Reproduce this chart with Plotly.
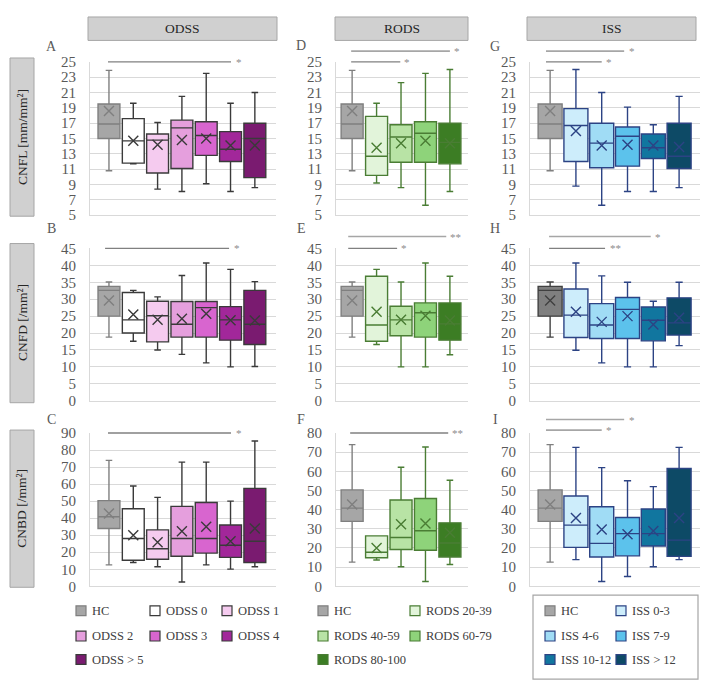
import plotly.graph_objects as go

W, H = 708, 682

# groups
odss_groups = ["HC", "ODSS 0", "ODSS 1", "ODSS 2", "ODSS 3", "ODSS 4", "ODSS > 5"]
rods_groups = ["HC", "RODS 20-39", "RODS 40-59", "RODS 60-79", "RODS 80-100"]
iss_groups = ["HC", "ISS 0-3", "ISS 4-6", "ISS 7-9", "ISS 10-12", "ISS > 12"]

# CNFL [mm/mm2]
cnfl_odss_min = [10.8, 11.7, 8.4, 8.1, 9.1, 8.1, 8.6]
cnfl_odss_q1 = [15.0, 11.8, 10.5, 11.1, 12.8, 12.0, 9.9]
cnfl_odss_med = [16.9, 14.7, 14.8, 16.4, 15.4, 13.6, 15.0]
cnfl_odss_q3 = [19.5, 17.6, 15.6, 17.4, 17.2, 15.9, 17.0]
cnfl_odss_max = [23.9, 19.6, 17.1, 20.5, 23.5, 19.6, 21.0]
cnfl_odss_mean = [18.6, 14.7, 14.2, 14.8, 15.0, 14.1, 14.1]

cnfl_rods_min = [10.8, 9.2, 8.6, 6.3, 8.1]
cnfl_rods_q1 = [15.0, 10.2, 11.9, 11.9, 11.7]
cnfl_rods_med = [16.9, 12.7, 15.2, 15.7, 14.5]
cnfl_rods_q3 = [19.5, 17.9, 16.8, 17.2, 17.0]
cnfl_rods_max = [23.9, 19.6, 22.3, 23.5, 24.0]
cnfl_rods_mean = [18.6, 13.8, 14.4, 14.7, 14.4]

cnfl_iss_min = [10.8, 8.8, 6.3, 8.1, 8.1, 8.6]
cnfl_iss_q1 = [15.0, 12.0, 11.2, 11.4, 12.4, 11.1]
cnfl_iss_med = [16.9, 16.7, 14.4, 15.3, 13.8, 12.7]
cnfl_iss_q3 = [19.5, 18.9, 17.0, 16.5, 15.6, 17.0]
cnfl_iss_max = [23.9, 24.0, 21.0, 19.1, 16.8, 20.5]
cnfl_iss_mean = [18.6, 16.0, 14.1, 14.2, 14.1, 13.9]

# CNFD [/mm2]
cnfd_odss_min = [18.8, 17.6, 15.0, 13.7, 11.2, 10.0, 10.1]
cnfd_odss_q1 = [25.0, 20.0, 17.4, 18.8, 18.8, 17.9, 16.6]
cnfd_odss_med = [32.6, 23.9, 25.1, 22.6, 27.5, 23.9, 22.6]
cnfd_odss_q3 = [33.8, 32.0, 29.4, 29.3, 29.3, 27.8, 32.6]
cnfd_odss_max = [35.1, 32.6, 30.7, 37.0, 40.7, 38.8, 35.2]
cnfd_odss_mean = [29.6, 25.5, 23.9, 24.2, 25.7, 23.8, 23.7]

cnfd_rods_min = [18.8, 16.6, 10.0, 10.0, 13.6]
cnfd_rods_q1 = [25.0, 17.6, 19.2, 18.8, 17.9]
cnfd_rods_med = [32.6, 22.4, 23.9, 26.0, 22.7]
cnfd_rods_q3 = [33.8, 36.8, 27.9, 28.9, 28.9]
cnfd_rods_max = [35.1, 38.8, 35.1, 40.7, 36.8]
cnfd_rods_mean = [29.6, 26.3, 23.9, 25.1, 23.7]

cnfd_iss_min = [18.8, 14.9, 11.2, 10.0, 10.0, 16.3]
cnfd_iss_q1 = [25.0, 18.7, 18.4, 18.4, 17.7, 19.4]
cnfd_iss_med = [32.6, 25.3, 22.4, 27.0, 23.8, 23.0]
cnfd_iss_q3 = [33.8, 33.0, 28.7, 30.5, 27.7, 30.4]
cnfd_iss_max = [35.1, 40.7, 36.9, 35.0, 29.4, 35.0]
cnfd_iss_mean = [29.6, 26.3, 23.3, 25.0, 22.5, 24.5]

# CNBD [/mm2]
cnbd_odss_min = [12.6, 14.0, 11.5, 2.5, 12.6, 10.1, 11.5]
cnbd_odss_q1 = [33.9, 15.3, 15.9, 17.6, 19.5, 17.0, 14.0]
cnbd_odss_med = [40.8, 28.1, 22.0, 28.1, 28.1, 24.1, 26.4]
cnbd_odss_q3 = [50.3, 45.5, 33.1, 46.9, 49.2, 36.0, 57.5]
cnbd_odss_max = [73.9, 58.9, 52.2, 72.9, 72.9, 50.0, 85.3]
cnbd_odss_mean = [42.7, 30.0, 25.8, 32.3, 35.0, 26.4, 34.0]

cnbd_rods_min = [12.6, 13.7, 10.2, 2.5, 11.4]
cnbd_rods_q1 = [33.9, 14.9, 19.2, 18.8, 15.3]
cnbd_rods_med = [40.8, 17.8, 25.5, 29.0, 22.6]
cnbd_rods_q3 = [50.3, 26.3, 45.0, 45.8, 33.1]
cnbd_rods_max = [73.9, 26.3, 62.1, 72.7, 55.3]
cnbd_rods_mean = [42.7, 20.0, 32.4, 32.8, 28.0]

cnbd_iss_min = [12.6, 13.9, 2.5, 5.1, 10.2, 13.9]
cnbd_iss_q1 = [33.9, 20.3, 15.3, 15.9, 21.0, 15.6]
cnbd_iss_med = [40.8, 31.9, 22.4, 27.5, 27.5, 24.1]
cnbd_iss_q3 = [50.3, 47.1, 41.5, 35.9, 40.3, 61.5]
cnbd_iss_max = [73.9, 72.5, 61.9, 55.1, 52.0, 72.5]
cnbd_iss_mean = [42.7, 35.6, 29.7, 27.1, 28.8, 35.6]

# significance bars: (from group, to group, level, label)
sig_a = [(-0.04, 5.02, 25.0, "*")]
sig_d = [(-0.04, 4.0, 26.4, "*"), (-0.04, 1.97, 25.0, "*")]
sig_g = [(-0.16, 2.87, 26.4, "*"), (-0.16, 2.0, 25.0, "*")]
sig_b = [(-0.16, 4.94, 45.0, "*")]
sig_e = [(-0.16, 3.85, 48.5, "**"), (-0.16, 1.84, 45.0, "*")]
sig_h = [(-0.04, 3.9, 48.5, "*"), (-0.04, 2.13, 45.0, "**")]
sig_c = [(-0.04, 5.02, 90.0, "*")]
sig_f = [(-0.08, 3.93, 80.0, "**")]
sig_i = [(-0.16, 2.87, 87.0, "*"), (-0.16, 2.0, 81.5, "*")]

col_titles = ["ODSS", "RODS", "ISS"]
row_titles = ["CNFL [mm/mm²]", "CNFD [/mm²]", "CNBD [/mm²]"]

# colours
HC_FILL, HC_LINE = "#a6a6a6", "#7f7f7f"
odss_fill = [HC_FILL, "#ffffff", "#f5cbef", "#e59fdd", "#d865cf", "#a2279a", "#7a1b70"]
rods_fill = [HC_FILL, "#e2f4da", "#b8e3a5", "#8ed37a", "#3c7d24"]
iss_fill = [HC_FILL, "#cdedfb", "#a0dcf5", "#5cc2ec", "#11769f", "#0d4a66"]
odss_line = [HC_LINE] + ["#3a3a3a"] * 6
rods_line = [HC_LINE] + ["#4a7d34"] * 4
iss_line = [HC_LINE] + ["#2c4384"] * 5

SERIF = "Times New Roman, Liberation Serif, DejaVu Serif, serif"
GRID = "#d9d9d9"

# layout geometry in pixels
col_px = [(82, 268, [-0.78, 6.87]), (328, 460, [-0.66, 4.74]), (522, 692, [-0.78, 5.81])]
row_px = [(47, 204), (238, 394), (427, 584)]


def fx(p):
    return p / W


def fy(p):
    return 1 - p / H


panels = [
    # col, row, letter, fills, lines, stats, yrange, dtick, sig
    (0, 0, "A", odss_fill, odss_line,
     (cnfl_odss_min, cnfl_odss_q1, cnfl_odss_med, cnfl_odss_q3, cnfl_odss_max, cnfl_odss_mean), [5, 25], 2, sig_a),
    (0, 1, "B", odss_fill, odss_line,
     (cnfd_odss_min, cnfd_odss_q1, cnfd_odss_med, cnfd_odss_q3, cnfd_odss_max, cnfd_odss_mean), [0, 45], 5, sig_b),
    (0, 2, "C", odss_fill, odss_line,
     (cnbd_odss_min, cnbd_odss_q1, cnbd_odss_med, cnbd_odss_q3, cnbd_odss_max, cnbd_odss_mean), [0, 90], 10, sig_c),
    (1, 0, "D", rods_fill, rods_line,
     (cnfl_rods_min, cnfl_rods_q1, cnfl_rods_med, cnfl_rods_q3, cnfl_rods_max, cnfl_rods_mean), [5, 25], 2, sig_d),
    (1, 1, "E", rods_fill, rods_line,
     (cnfd_rods_min, cnfd_rods_q1, cnfd_rods_med, cnfd_rods_q3, cnfd_rods_max, cnfd_rods_mean), [0, 45], 5, sig_e),
    (1, 2, "F", rods_fill, rods_line,
     (cnbd_rods_min, cnbd_rods_q1, cnbd_rods_med, cnbd_rods_q3, cnbd_rods_max, cnbd_rods_mean), [0, 80], 10, sig_f),
    (2, 0, "G", iss_fill, iss_line,
     (cnfl_iss_min, cnfl_iss_q1, cnfl_iss_med, cnfl_iss_q3, cnfl_iss_max, cnfl_iss_mean), [5, 25], 2, sig_g),
    (2, 1, "H", ["#7f7f7f"] + iss_fill[1:], ["#404040"] + iss_line[1:],
     (cnfd_iss_min, cnfd_iss_q1, cnfd_iss_med, cnfd_iss_q3, cnfd_iss_max, cnfd_iss_mean), [0, 45], 5, sig_h),
    (2, 2, "I", iss_fill, iss_line,
     (cnbd_iss_min, cnbd_iss_q1, cnbd_iss_med, cnbd_iss_q3, cnbd_iss_max, cnbd_iss_mean), [0, 80], 10, sig_i),
]

letter_px = {"A": (43, 31), "B": (43, 218), "C": (43, 413),
             "D": (293, 30), "E": (293, 218), "F": (293, 413),
             "G": (487, 31), "H": (487, 218), "I": (487, 413)}

fig = go.Figure()
shapes = []
annotations = []
layout_axes = {}

for n, (c, r, letter, fills, lines, stats, yrange, dtick, sig) in enumerate(panels, start=1):
    sfx = "" if n == 1 else str(n)
    x0p, x1p, xrange = col_px[c]
    y0p, y1p = row_px[r]
    lo, q1, med, q3, hi, mean = stats
    idx = list(range(len(lo)))

    for i in idx:
        fig.add_trace(go.Box(
            x=[i], q1=[q1[i]], median=[med[i]], q3=[q3[i]],
            lowerfence=[lo[i]], upperfence=[hi[i]],
            width=0.9 if c < 2 else 0.93, whiskerwidth=0.3,
            fillcolor=fills[i], line=dict(color=lines[i], width=1.4),
            boxpoints=False, hoverinfo="skip", showlegend=False,
            xaxis="x" + sfx, yaxis="y" + sfx,
        ))
    fig.add_trace(go.Scatter(
        x=idx, y=mean, mode="markers", showlegend=False, hoverinfo="skip",
        marker=dict(symbol="x-thin", size=10, line=dict(width=1.4, color=lines)),
        xaxis="x" + sfx, yaxis="y" + sfx,
    ))

    layout_axes["xaxis" + sfx] = dict(
        domain=[fx(x0p), fx(x1p)], range=xrange, anchor="y" + sfx,
        showticklabels=False, showgrid=False, zeroline=False,
        showline=True, linecolor=GRID, linewidth=1, ticks="", fixedrange=True,
    )
    layout_axes["yaxis" + sfx] = dict(
        domain=[fy(y1p), fy(y0p)], range=yrange, anchor="x" + sfx,
        tick0=yrange[0], dtick=dtick, showgrid=True, gridcolor=GRID, gridwidth=1,
        zeroline=False, showline=True, linecolor=GRID, linewidth=1,
        ticks="outside", ticklen=10, tickcolor="rgba(0,0,0,0)",
        tickfont=dict(family=SERIF, size=15, color="#595959"), fixedrange=True,
    )

    # significance bars
    span_x = xrange[1] - xrange[0]
    span_y = yrange[1] - yrange[0]
    for (a, b, lvl, lab) in sig:
        yf = (lvl - yrange[0]) / span_y
        upper = lvl > yrange[1] + 0.01 * span_y
        shapes.append(dict(
            type="line", xref="x" + sfx + " domain", yref="y" + sfx + " domain",
            x0=(a - xrange[0]) / span_x, x1=(b - xrange[0]) / span_x, y0=yf, y1=yf,
            line=dict(color="#a6a6a6" if upper else "#808080", width=1.6 if upper else 1.3),
            layer="above",
        ))
        annotations.append(dict(
            xref="x" + sfx + " domain", yref="y" + sfx + " domain",
            x=(b - xrange[0]) / span_x + 0.015, y=yf, text=lab, showarrow=False,
            xanchor="left", yanchor="middle",
            font=dict(family=SERIF, size=11, color="#8c8c8c"),
        ))

    lx, ly = letter_px[letter]
    annotations.append(dict(
        xref="paper", yref="paper", x=fx(lx), y=fy(ly), text=letter, showarrow=False,
        xanchor="center", yanchor="middle", font=dict(family=SERIF, size=14, color="#595959"),
    ))

# column headers
header_px = [(80, 269), (327, 460), (519, 688)]
for (a, b), t in zip(header_px, col_titles):
    shapes.append(dict(type="rect", xref="paper", yref="paper",
                       x0=fx(a), x1=fx(b), y0=fy(25), y1=fy(1),
                       fillcolor="#d0d0d0", line=dict(color="#a6a6a6", width=1)))
    annotations.append(dict(xref="paper", yref="paper", x=fx((a + b) / 2), y=fy(13),
                            text=t, showarrow=False, xanchor="center", yanchor="middle",
                            font=dict(family=SERIF, size=13.5, color="#262626")))

# row headers
rowlab_px = [(43, 205), (233, 396), (424, 585)]
for (a, b), t in zip(rowlab_px, row_titles):
    shapes.append(dict(type="rect", xref="paper", yref="paper",
                       x0=fx(2), x1=fx(26), y0=fy(b), y1=fy(a),
                       fillcolor="#d0d0d0", line=dict(color="#a6a6a6", width=1)))
    annotations.append(dict(xref="paper", yref="paper", x=fx(14), y=fy((a + b) / 2),
                            text=t, showarrow=False, textangle=-90,
                            xanchor="center", yanchor="middle",
                            font=dict(family=SERIF, size=13.5, color="#262626")))

# legends
legend_rows = [609, 635, 659]
legends = [
    (odss_groups, odss_fill, odss_line, [68, 142, 214]),
    (rods_groups, rods_fill, rods_line, [310, 402]),
    (iss_groups, iss_fill, iss_line, [537, 608]),
]
for groups, fills, lines, cols in legends:
    for k, g in enumerate(groups):
        cx = cols[k % len(cols)]
        cy = legend_rows[k // len(cols)]
        shapes.append(dict(type="rect", xref="paper", yref="paper",
                           x0=fx(cx), x1=fx(cx + 10), y0=fy(cy + 5), y1=fy(cy - 5),
                           fillcolor=fills[k], line=dict(color=lines[k], width=1.2)))
        annotations.append(dict(xref="paper", yref="paper", x=fx(cx + 14), y=fy(cy),
                                text=g, showarrow=False, xanchor="left", yanchor="middle",
                                font=dict(family=SERIF, size=12.5, color="#404040")))
shapes.append(dict(type="rect", xref="paper", yref="paper",
                   x0=fx(525), x1=fx(690), y0=fy(679), y1=fy(593),
                   fillcolor="rgba(0,0,0,0)", line=dict(color="#a6a6a6", width=1.2)))

fig.update_layout(
    width=W, height=H, autosize=False,
    margin=dict(l=0, r=0, t=0, b=0),
    paper_bgcolor="white", plot_bgcolor="white",
    boxmode="overlay", showlegend=False,
    shapes=shapes, annotations=annotations,
    **layout_axes,
)

fig.write_html("out.html")
